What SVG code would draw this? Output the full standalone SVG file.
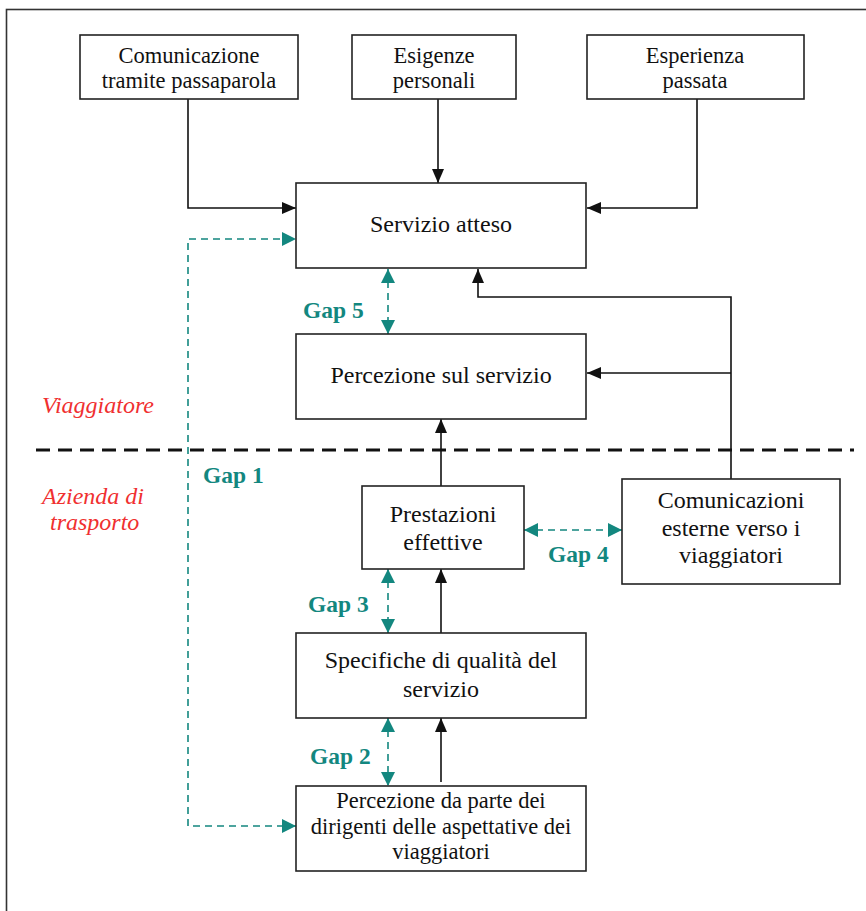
<svg xmlns="http://www.w3.org/2000/svg" width="866" height="911" viewBox="0 0 866 911">
  <style>
    .box { fill: #ffffff; stroke: #222222; stroke-width: 1.6; }
    .t { font-family: "Liberation Serif", "Times New Roman", "DejaVu Serif", serif; font-size: 24px; fill: #111111; text-anchor: middle; }
    .sm { font-size: 22.5px; }
    .gap { font-family: "Liberation Serif", "Times New Roman", "DejaVu Serif", serif; font-size: 23.5px; font-weight: bold; fill: #13877f; }
    .side { font-family: "Liberation Serif", "Times New Roman", "DejaVu Serif", serif; font-size: 24px; font-style: italic; fill: #f03030; }
    .solid { fill: none; stroke: #111111; stroke-width: 1.6; }
    .teal { fill: none; stroke: #13877f; stroke-width: 1.6; stroke-dasharray: 7 5; }
  </style>
  <defs>
    <marker id="ah" markerUnits="userSpaceOnUse" markerWidth="14" markerHeight="12" viewBox="0 0 14 12" refX="14" refY="6" orient="auto-start-reverse">
      <path d="M0,0 L14,6 L0,12 z" fill="#111111"/>
    </marker>
    <marker id="ahT" markerUnits="userSpaceOnUse" markerWidth="14" markerHeight="14" viewBox="0 0 14 14" refX="14" refY="7" orient="auto-start-reverse">
      <path d="M0,0 L14,7 L0,14 z" fill="#13877f"/>
    </marker>
  </defs>

  <rect x="0" y="0" width="866" height="911" fill="#ffffff"/>
  <!-- page frame -->
  <rect x="6.5" y="9.5" width="900" height="960" fill="none" stroke="#333333" stroke-width="1.6"/>

  <!-- boundary between traveller and company -->
  <line x1="36" y1="450" x2="854" y2="450" stroke="#111111" stroke-width="3" stroke-dasharray="14 8"/>
  <text class="side" x="42" y="413">Viaggiatore</text>
  <text class="side" x="42" y="504">Azienda di</text>
  <text class="side" x="50" y="530">trasporto</text>

  <g id="connectors">
    <!-- inputs to expected service -->
    <path class="solid" d="M188,99 V208 H296" marker-end="url(#ah)"/>
    <path class="solid" d="M438,99 V183" marker-end="url(#ah)"/>
    <path class="solid" d="M697,99 V208 H587" marker-end="url(#ah)"/>
    <!-- external communications feedback -->
    <path class="solid" d="M731,479 V297 H478 V269" marker-end="url(#ah)"/>
    <path class="solid" d="M731,373 H587" marker-end="url(#ah)"/>
    <!-- delivery chain -->
    <path class="solid" d="M441,486 V419" marker-end="url(#ah)"/>
    <path class="solid" d="M441,633 V569" marker-end="url(#ah)"/>
    <path class="solid" d="M441,782 V718" marker-end="url(#ah)"/>
    <!-- gaps -->
    <path class="teal" d="M388,269 V334" marker-start="url(#ahT)" marker-end="url(#ahT)"/>
    <path class="teal" d="M388,569 V633" marker-start="url(#ahT)" marker-end="url(#ahT)"/>
    <path class="teal" d="M388,718 V786" marker-start="url(#ahT)" marker-end="url(#ahT)"/>
    <path class="teal" d="M524,530 H622" marker-start="url(#ahT)" marker-end="url(#ahT)"/>
    <path class="teal" d="M296,826 H188 V239 H296" marker-start="url(#ahT)" marker-end="url(#ahT)"/>
  </g>

  <text class="gap" x="303" y="318">Gap 5</text>
  <text class="gap" x="203" y="483">Gap 1</text>
  <text class="gap" x="548" y="562">Gap 4</text>
  <text class="gap" x="308" y="612">Gap 3</text>
  <text class="gap" x="310" y="764">Gap 2</text>

  <g id="passaparola">
    <rect class="box" x="80" y="35" width="218" height="64"/>
    <text class="t sm" x="189" y="63">Comunicazione</text>
    <text class="t sm" x="189" y="88">tramite passaparola</text>
  </g>
  <g id="esigenze">
    <rect class="box" x="352" y="35" width="164" height="64"/>
    <text class="t sm" x="434" y="63">Esigenze</text>
    <text class="t sm" x="434" y="88">personali</text>
  </g>
  <g id="esperienza">
    <rect class="box" x="587" y="35" width="217" height="64"/>
    <text class="t sm" x="695" y="63">Esperienza</text>
    <text class="t sm" x="695" y="88">passata</text>
  </g>
  <g id="servizio-atteso">
    <rect class="box" x="296" y="183" width="290" height="85"/>
    <text class="t" x="441" y="232">Servizio atteso</text>
  </g>
  <g id="percezione-servizio">
    <rect class="box" x="296" y="334" width="290" height="85"/>
    <text class="t" x="441" y="383">Percezione sul servizio</text>
  </g>
  <g id="prestazioni">
    <rect class="box" x="362" y="486" width="162" height="83"/>
    <text class="t" x="443" y="522">Prestazioni</text>
    <text class="t" x="443" y="550">effettive</text>
  </g>
  <g id="comunicazioni-esterne">
    <rect class="box" x="622" y="479" width="218" height="105"/>
    <text class="t" x="731" y="508">Comunicazioni</text>
    <text class="t" x="731" y="536">esterne verso i</text>
    <text class="t" x="731" y="563">viaggiatori</text>
  </g>
  <g id="specifiche">
    <rect class="box" x="296" y="633" width="290" height="85"/>
    <text class="t" x="441" y="668">Specifiche di qualità del</text>
    <text class="t" x="441" y="697">servizio</text>
  </g>
  <g id="percezione-dirigenti">
    <rect class="box" x="296" y="786" width="290" height="85"/>
    <text class="t sm" x="441" y="808">Percezione da parte dei</text>
    <text class="t sm" x="441" y="834">dirigenti delle aspettative dei</text>
    <text class="t sm" x="441" y="859">viaggiatori</text>
  </g>
</svg>
